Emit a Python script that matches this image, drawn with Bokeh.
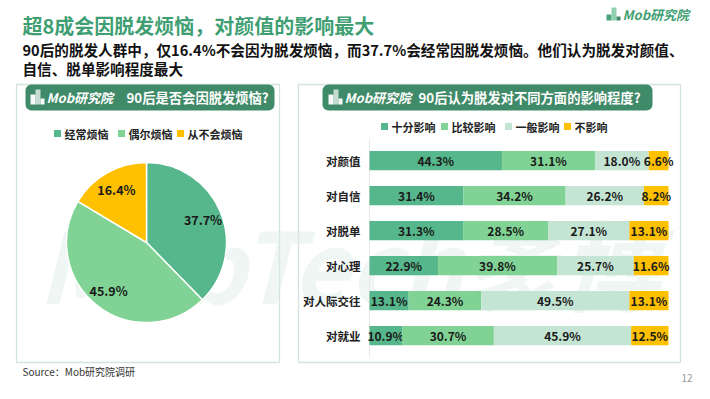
import numpy as np
from bokeh.plotting import figure
from bokeh.models import Range1d, BoxAnnotation
from bokeh.core.properties import value
from bokeh.embed import file_html
from bokeh.resources import INLINE

# ---------------- data ----------------
pie_labels = ["经常烦恼", "偶尔烦恼", "从不会烦恼"]
pie_values = [37.7, 45.9, 16.4]
pie_colors = ["#55b78b", "#80d394", "#ffc000"]

bar_categories = ["对颜值", "对自信", "对脱单", "对心理", "对人际交往", "对就业"]
bar_series = ["十分影响", "比较影响", "一般影响", "不影响"]
very_much = [44.3, 31.4, 31.3, 22.9, 13.1, 10.9]
rather = [31.1, 34.2, 28.5, 39.8, 24.3, 30.7]
general = [18.0, 26.2, 27.1, 25.7, 49.5, 45.9]
no_effect = [6.6, 8.2, 13.1, 11.6, 13.1, 12.5]
bar_colors = ["#55b78b", "#80d394", "#c4e4d4", "#ffc000"]

title = "超8成会因脱发烦恼，对颜值的影响最大"
subtitle1 = "90后的脱发人群中，仅16.4%不会因为脱发烦恼，而37.7%会经常因脱发烦恼。他们认为脱发对颜值、"
subtitle2 = "自信、脱单影响程度最大"
left_title = "90后是否会因脱发烦恼?"
right_title = "90后认为脱发对不同方面的影响程度?"
source_text = "Source：Mob研究院调研"
page_no = "12"

FONT = value("Noto Sans CJK SC")
GREEN = "#3f9f73"
HEADER = "#3f8a68"
BORDER = "#6aa58e"

W, H = 694, 383
p = figure(width=W, height=H, x_range=Range1d(8, 8 + W), y_range=Range1d(8 + H, 8),
           x_axis_type=None, y_axis_type=None, toolbar_location=None,
           output_backend="svg", min_border=0)
p.outline_line_color = None
p.grid.visible = False
p.background_fill_color = "white"

# pie range: center at page (154, 250), 1 unit = 1 px
pcx, pcy = 154, 250
p.extra_x_ranges["pie"] = Range1d(-(pcx - 8), W - (pcx - 8))
p.extra_y_ranges["pie"] = Range1d(-(H - (pcy - 8)), pcy - 8)
# bar range: 0..100 -> page x 377..676 ; row i -> page y 168 + 35 i
bx0, bw = 377, 299
by0, bstep = 168, 35
p.extra_x_ranges["bar"] = Range1d(-(bx0 - 8) * 100 / bw, (W - (bx0 - 8)) * 100 / bw)
p.extra_y_ranges["bar"] = Range1d((H - (by0 - 8)) / bstep, -(by0 - 8) / bstep)

# panels and header bands (drawn beneath glyphs)
for l, r in [(24, 287), (306, 688)]:
    p.add_layout(BoxAnnotation(left=l, right=r, top=92, bottom=370, fill_color=None,
                               line_color=BORDER, line_width=1.3, level="underlay"))
for l, r in [(33, 282), (330, 660)]:
    p.add_layout(BoxAnnotation(left=l, right=r, top=92, bottom=118, fill_color=HEADER,
                               fill_alpha=1, line_color=None, border_radius=6,
                               level="underlay"))

# watermark
p.text(x=[45], y=[268], text=["MobTech袤博"], text_font=FONT, text_font_size="98px",
       text_font_style="bold italic", text_color="#dcece4", text_alpha=0.45,
       text_baseline="alphabetic")

# headings
p.text(x=[30], y=[33], text=[title], text_font=FONT, text_font_size="20px",
       text_font_style="bold", text_color=GREEN, text_baseline="middle")
p.text(x=[30], y=[57], text=[subtitle1], text_font=FONT, text_font_size="14.6px",
       text_font_style="bold", text_color="#111111", text_baseline="middle")
p.text(x=[30], y=[76], text=[subtitle2], text_font=FONT, text_font_size="14.6px",
       text_font_style="bold", text_color="#111111", text_baseline="middle")

# top-right logo
p.quad(left=[614, 619, 624], right=[619, 624, 628], top=[22, 15, 24], bottom=[28, 28, 28],
       fill_color=["#4aa57a", "#8fd1ad", "#3f8a68"], line_color=None)
p.text(x=[630], y=[22], text=["Mob研究院"], text_font=FONT, text_font_size="13px",
       text_font_style="bold italic", text_color=GREEN, text_baseline="middle")

# header logos + titles
for ix, tx, ttl in [(38, 134, left_title), (336, 426, right_title)]:
    p.quad(left=[ix, ix + 5, ix + 10], right=[ix + 5, ix + 10, ix + 14],
           top=[102, 97, 106], bottom=[112, 112, 112],
           fill_color="white", fill_alpha=[0.95, 0.7, 0.95], line_color=None)
    p.text(x=[ix + 16], y=[105], text=["Mob研究院"], text_font=FONT, text_font_size="13px",
           text_font_style="bold italic", text_color="white", text_baseline="middle")
    p.text(x=[tx], y=[105], text=[ttl], text_font=FONT, text_font_size="13.3px",
           text_font_style="bold", text_color="white", text_baseline="middle")

# ---------------- pie ----------------
vals = np.array(pie_values)
cum = np.concatenate([[0], np.cumsum(vals)])
start = np.pi / 2 - 2 * np.pi * cum[:-1] / 100
end = np.pi / 2 - 2 * np.pi * cum[1:] / 100
p.wedge(x=0, y=0, radius=80, start_angle=start, end_angle=end, direction="clock",
        fill_color=pie_colors, line_color="white", line_width=1.5,
        x_range_name="pie", y_range_name="pie")
mid = (start + end) / 2
p.text(x=61 * np.cos(mid), y=61 * np.sin(mid), text=[f"{v:.1f}%" for v in vals],
       text_font=FONT, text_font_size="12.5px", text_font_style="bold", text_color="#1a1a1a",
       text_align="center", text_baseline="middle", x_range_name="pie", y_range_name="pie")

# pie legend
p.scatter(x=[65, 129, 188], y=[141, 141, 141], marker="square", size=7,
          fill_color=pie_colors, line_color=None)
p.text(x=[72, 136, 195], y=[141, 141, 141], text=pie_labels, text_font=FONT,
       text_font_size="11px", text_font_style="bold", text_color="#222222",
       text_baseline="middle")

# ---------------- stacked bars ----------------
rows = np.arange(len(bar_categories))
data = np.array([very_much, rather, general, no_effect])
lefts = np.vstack([np.zeros(len(rows)), np.cumsum(data, axis=0)[:-1]])
rights = np.cumsum(data, axis=0)
p.segment(x0=[0], x1=[0], y0=[-0.6], y1=[len(rows) - 0.4], line_color="#e8e8e8",
          line_width=1, x_range_name="bar", y_range_name="bar")
for k in range(4):
    p.hbar(y=rows, left=lefts[k], right=rights[k], height=0.55, fill_color=bar_colors[k],
           line_color=None, x_range_name="bar", y_range_name="bar")
    p.text(x=(lefts[k] + rights[k]) / 2, y=rows, text=[f"{v:.1f}%" for v in data[k]],
           text_font=FONT, text_font_size="12px", text_font_style="bold",
           text_color="#1a1a1a", text_align="center", text_baseline="middle",
           x_range_name="bar", y_range_name="bar")
p.text(x=[-3] * len(rows), y=rows, text=bar_categories, text_font=FONT,
       text_font_size="11.5px", text_font_style="bold", text_color="#222222",
       text_align="right", text_baseline="middle", x_range_name="bar", y_range_name="bar")

# bar legend
p.scatter(x=[392, 452, 516, 575], y=[134] * 4, marker="square", size=7,
          fill_color=bar_colors, line_color=None)
p.text(x=[399, 459, 523, 582], y=[134] * 4, text=bar_series, text_font=FONT,
       text_font_size="11px", text_font_style="bold", text_color="#222222",
       text_baseline="middle")

# footer
p.text(x=[30], y=[379], text=[source_text], text_font=FONT, text_font_size="10px",
       text_color="#333333", text_baseline="middle")
p.text(x=[700], y=[385], text=[page_no], text_font=FONT, text_font_size="10px",
       text_color="#999999", text_align="right", text_baseline="middle")

open("out.html", "w").write(file_html(p, INLINE))
